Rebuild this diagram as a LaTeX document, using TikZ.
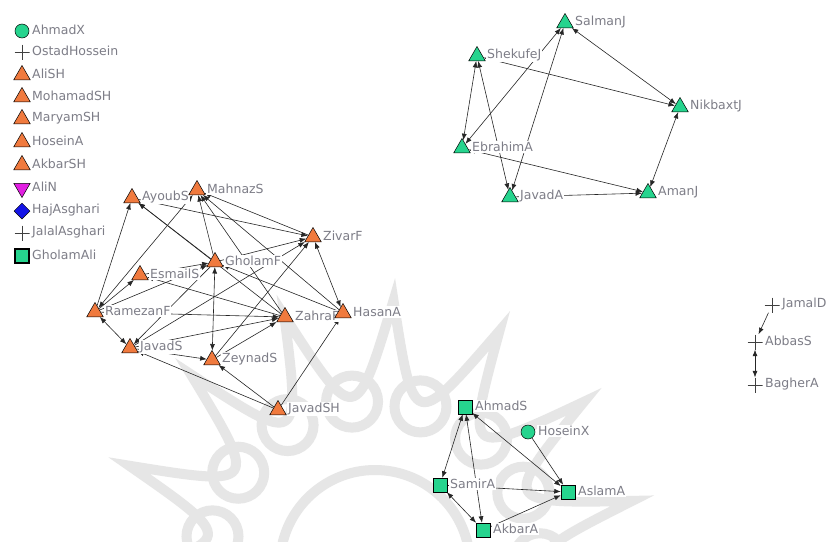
\documentclass[tikz,border=0pt]{standalone}
\usepackage{fontspec}
\newfontfamily\labfont{DejaVu Sans}
\usetikzlibrary{arrows.meta,shapes.geometric}
\definecolor{orn}{RGB}{240,122,62}
\definecolor{grn}{RGB}{38,212,142}
\definecolor{mag}{RGB}{226,30,226}
\definecolor{blu}{RGB}{20,20,230}
\definecolor{labc}{RGB}{125,125,135}
\definecolor{wmc}{RGB}{230,230,230}
\pgfdeclarelayer{wm}\pgfdeclarelayer{edges}\pgfsetlayers{wm,edges,main}
\newcommand\mknode[4]{\node[#3] (#1) at (#2) {};\node[lab,xshift=9pt,yshift=1pt] (#1-t) at (#2) {#4};}
\begin{document}
\begin{tikzpicture}[x=1pt,y=-1pt,
  sym/.style={draw=black, line width=0.5pt, inner sep=0pt},
  tri/.style={sym, regular polygon, regular polygon sides=3, minimum size=19pt},
  otri/.style={tri, fill=orn}, gtri/.style={tri, fill=grn},
  itri/.style={tri, fill=mag, shape border rotate=180},
  dia/.style={sym, diamond, fill=blu, minimum size=16pt},
  sq/.style={sym, rectangle, fill=grn, minimum size=14pt},
  circ/.style={sym, circle, fill=grn, minimum size=14pt},
  crs/.style={inner sep=0pt, minimum size=15pt, path picture={\draw[black!75, line width=0.7pt] (path picture bounding box.north) -- (path picture bounding box.south) (path picture bounding box.west) -- (path picture bounding box.east);}},
  lab/.style={anchor=west, fill=white, inner sep=1pt, text=labc, font=\labfont\fontsize{12.5}{13}\selectfont},
  ln/.style={draw=black!85, line width=0.6pt},
  ar/.style={ln, -{Latex[length=6.5pt,width=5pt]}},
  bi/.style={ln, {Latex[length=6.5pt,width=5pt]}-{Latex[length=6.5pt,width=5pt]}}]
\useasboundingbox (0,0) rectangle (829,541);
\begin{pgfonlayer}{wm}
\fill[white] (0,0) rectangle (829,541);
\begin{scope}
\clip (0,0) rectangle (829,541);
\begin{scope}[shift={(375,565)}, draw=wmc, line width=10pt]
\draw (-86:265) \foreach \k in {1,...,15} { .. controls ({-86+24*\k-12}:140) .. ({-86+24*\k}:265) } -- cycle;
\foreach \k in {0,...,14} \draw ({-86+24*\k+12}:165) circle[radius=26pt];
\draw (0,0) circle[radius=95pt];
\end{scope}
\end{scope}
\end{pgfonlayer}
% legend
\mknode{AhmadX}{22,31}{circ}{AhmadX}
\mknode{OstadHossein}{22,52}{crs}{OstadHossein}
\mknode{AliSH}{22,75}{otri}{AliSH}
\mknode{MohamadSH}{22,97}{otri}{MohamadSH}
\mknode{MaryamSH}{22,119}{otri}{MaryamSH}
\mknode{HoseinA}{22,142}{otri}{HoseinA}
\mknode{AkbarSH}{22,165}{otri}{AkbarSH}
\mknode{AliN}{22,188}{itri}{AliN}
\mknode{HajAsghari}{22,211}{dia}{HajAsghari}
\mknode{JalalAsghari}{22,233}{crs}{JalalAsghari}
\mknode{GholamAli}{22,256}{sq, line width=1.6pt}{GholamAli}
% top right
\mknode{SalmanJ}{565,23}{gtri}{SalmanJ}
\mknode{ShekufeJ}{477,56}{gtri}{ShekufeJ}
\mknode{NikbaxtJ}{680,107}{gtri}{NikbaxtJ}
\mknode{EbrahimA}{462,148}{gtri}{EbrahimA}
\mknode{JavadA}{510,197}{gtri}{JavadA}
\mknode{AmanJ}{648,193}{gtri}{AmanJ}
% left cluster
\mknode{AyoubS}{132,198}{otri}{AyoubS}
\mknode{MahnazS}{197,190}{otri}{MahnazS}
\mknode{GholamF}{215,262}{otri}{GholamF}
\mknode{EsmailS}{140,275}{otri}{EsmailS}
\mknode{ZivarF}{313,237}{otri}{ZivarF}
\mknode{RamezanF}{95,312}{otri}{RamezanF}
\mknode{JavadS}{130,348}{otri}{JavadS}
\mknode{ZeynadS}{212,360}{otri}{ZeynadS}
\mknode{ZahraF}{285,317}{otri}{ZahraF}
\mknode{HasanA}{343,313}{otri}{HasanA}
\mknode{JavadSH}{278,410}{otri}{JavadSH}
% bottom cluster
\mknode{AhmadS}{465,407}{sq}{AhmadS}
\mknode{HoseinX}{528,432}{circ}{HoseinX}
\mknode{SamirA}{440,485}{sq}{SamirA}
\mknode{AslamA}{568,492}{sq}{AslamA}
\mknode{AkbarA}{483,530}{sq}{AkbarA}
% right
\mknode{JamalD}{772,305}{crs}{JamalD}
\mknode{AbbasS}{755,342}{crs}{AbbasS}
\mknode{BagherA}{755,385}{crs}{BagherA}
\begin{pgfonlayer}{edges}
\draw[bi] (SalmanJ) -- (EbrahimA);
\draw[bi] (SalmanJ) -- (JavadA);
\draw[bi] (SalmanJ) -- (NikbaxtJ);
\draw[bi] (ShekufeJ) -- (NikbaxtJ);
\draw[bi] (ShekufeJ) -- (EbrahimA);
\draw[bi] (ShekufeJ) -- (JavadA);
\draw[bi] (EbrahimA) -- (AmanJ);
\draw[ar] (JavadA) -- (AmanJ);
\draw[bi] (NikbaxtJ) -- (AmanJ);
\draw[ar] (RamezanF) -- (AyoubS);
\draw[ar] (GholamF) -- (AyoubS);
\draw[ar] (ZahraF) -- (AyoubS);
\draw[ar] (AyoubS) -- (ZivarF);
\draw[ar] (ZivarF) -- (MahnazS);
\draw[ar] (HasanA) -- (MahnazS);
\draw[bi] (RamezanF) -- (MahnazS);
\draw[ar] (RamezanF) -- (EsmailS);
\draw[ar] (RamezanF) -- (GholamF);
\draw[ar] (RamezanF) -- (ZahraF);
\draw[bi] (RamezanF) -- (JavadS);
\draw[ar] (JavadS) -- (ZeynadS);
\draw[ar] (JavadSH) -- (JavadS);
\draw[ar] (JavadSH) -- (ZeynadS);
\draw[ar] (JavadSH) -- (HasanA);
\draw[bi] (ZivarF) -- (HasanA);
\draw[ar] (GholamF) -- (MahnazS);
\draw[bi] (GholamF) -- (ZeynadS);
\draw[ar] (ZahraF) -- (MahnazS);
\draw[ar] (HasanA) -- (GholamF);
\draw[ar] (GholamF) -- (ZivarF);
\draw[ar] (ZeynadS) -- (ZivarF);
\draw[ar] (JavadS) -- (ZivarF);
\draw[ar] (ZeynadS) -- (ZahraF);
\draw[ar] (JavadS) -- (ZahraF);
\draw[ar] (ZahraF) -- (EsmailS);
\draw[ar] (EsmailS) -- (GholamF);
\draw[ar] (GholamF) -- (JavadS);
\draw[bi] (AhmadS) -- (SamirA);
\draw[bi] (AhmadS) -- (AkbarA);
\draw[bi] (AhmadS) -- (AslamA);
\draw[ar] (HoseinX) -- (AslamA);
\draw[ar] (SamirA) -- (AslamA);
\draw[bi] (SamirA) -- (AkbarA);
\draw[ar] (AkbarA) -- (AslamA);
\draw[ar] (JamalD) -- (AbbasS);
\draw[bi] (AbbasS) -- (BagherA);
\end{pgfonlayer}
\end{tikzpicture}
\end{document}
